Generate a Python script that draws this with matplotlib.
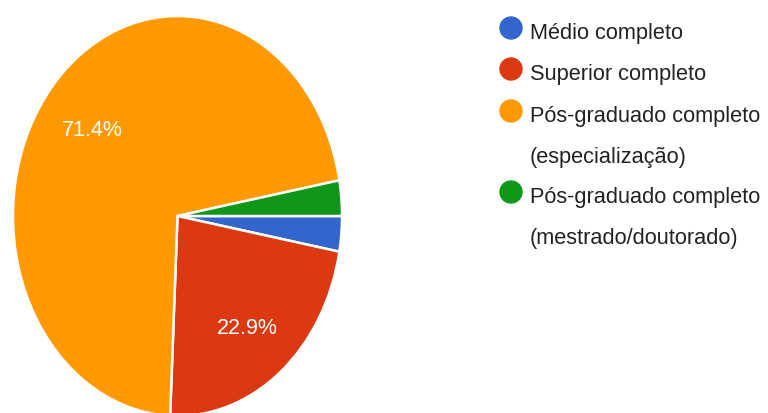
import matplotlib
matplotlib.use('Agg')
import matplotlib.pyplot as plt
from matplotlib.patches import Ellipse

plt.rcParams['font.family'] = ['Liberation Sans', 'DejaVu Sans']

# dados do gráfico (35 respostas)
categorias = ['Médio completo', 'Superior completo',
              'Pós-graduado completo\n(especialização)',
              'Pós-graduado completo\n(mestrado/doutorado)']
respostas = [1, 8, 25, 1]
cores = ['#3366CC', '#DC3912', '#FF9900', '#109618']

W, H = 768, 414
fig = plt.figure(figsize=(W / 100, H / 100), dpi=100)

# pizza um pouco esticada na vertical, como na imagem original
ax = fig.add_axes([13 / W, -3 / H, 329 / W, 400 / H])
wedges, textos, pcts = ax.pie(
    respostas, colors=cores, startangle=0, counterclock=False,
    autopct=lambda p: f'{p:.1f}%' if p > 5 else '',
    pctdistance=0.685,
    wedgeprops=dict(edgecolor='white', linewidth=1.8),
    textprops=dict(color='white', fontsize=15.5))
for t in pcts:
    x, y = t.get_position()
    t.set_position((x, y - 0.02))
ax.set_aspect('auto')
ax.set_xlim(-1, 1)
ax.set_ylim(-1, 1)
ax.axis('off')

# legenda desenhada à mão (linhas de base em pixels)
base_linhas = [39, 80, 122, 203]
passo = 41
for cat, cor, y in zip(categorias, cores, base_linhas):
    fig.patches.append(Ellipse(
        (511 / W, 1 - (y - 10) / H), 22 / W, 22 / H,
        transform=fig.transFigure, color=cor))
    for k, linha in enumerate(cat.split('\n')):
        fig.text(530 / W, 1 - (y + k * passo) / H, linha,
                 fontsize=15.7, color='#222222', va='baseline', ha='left')

fig.savefig('out.png', dpi=100)
